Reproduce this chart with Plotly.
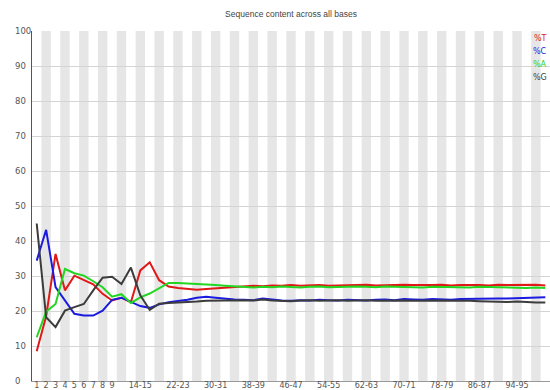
import plotly.graph_objects as go

# Position groups along the read (single bases, then pairs)
CATEGORIES = [str(i) for i in range(1, 10)] + [f"{i}-{i + 1}" for i in range(10, 100, 2)] + ["100"]

# Percentage of each base at every position group
PCT_T = [8.5, 18.5, 36.3, 25.9, 30.1, 28.9, 27.6, 24.9, 23.0, 23.8,
         22.5, 31.6, 33.9, 28.8, 27.0, 26.6, 26.3, 26.1, 26.3, 26.5,
         26.6, 26.8, 27.0, 27.2, 27.1, 27.3, 27.2, 27.4, 27.2, 27.3,
         27.4, 27.2, 27.3, 27.4, 27.3, 27.5, 27.3, 27.4, 27.3, 27.5,
         27.4, 27.3, 27.4, 27.5, 27.3, 27.4, 27.5, 27.4, 27.3, 27.5,
         27.4, 27.5, 27.6, 27.5, 27.3]
PCT_C = [34.4, 43.2, 26.8, 23.0, 19.2, 18.7, 18.7, 20.1, 23.2, 23.8,
         22.6, 21.4, 20.9, 21.9, 22.5, 22.8, 23.2, 23.8, 24.1, 23.8,
         23.5, 23.3, 23.2, 23.1, 23.6, 23.2, 23.0, 22.9, 23.1, 23.0,
         23.2, 23.1, 23.0, 23.2, 23.1, 23.0, 23.2, 23.3, 23.1, 23.4,
         23.3, 23.2, 23.4, 23.3, 23.2, 23.4, 23.5, 23.4, 23.5, 23.6,
         23.6, 23.7, 23.8, 23.9, 23.9]
PCT_A = [12.5, 19.8, 22.0, 32.0, 30.8, 30.1, 28.5, 26.8, 24.1, 24.8,
         22.3, 23.9, 25.0, 26.5, 28.0, 28.0, 27.9, 27.8, 27.6, 27.4,
         27.2, 27.0, 26.9, 26.7, 26.9, 26.8, 27.0, 26.9, 26.7, 26.9,
         27.0, 26.8, 26.9, 26.8, 27.0, 26.9, 26.8, 27.0, 26.9, 26.8,
         26.9, 26.7, 26.9, 26.8, 26.9, 26.8, 26.7, 26.9, 26.8, 26.7,
         26.8, 26.7, 26.6, 26.7, 26.6]
PCT_G = [45.0, 18.2, 15.4, 20.1, 21.1, 22.0, 25.9, 29.5, 29.8, 27.7,
         32.4, 24.5, 20.3, 22.1, 22.3, 22.4, 22.4, 22.7, 22.9, 23.0,
         22.9, 23.0, 23.1, 23.0, 23.3, 23.0, 22.9, 22.8, 23.0, 23.1,
         22.9, 23.0, 23.1, 22.9, 23.0, 23.1, 22.9, 23.0, 23.1, 23.0,
         22.9, 23.0, 23.1, 23.0, 22.9, 23.0, 22.9, 22.8, 22.7, 22.8,
         22.6, 22.7, 22.5, 22.4, 22.4]

SERIES_NAMES = ["%T", "%C", "%A", "%G"]
SERIES_COLORS = ["#e01818", "#1a1ae0", "#22d622", "#3c3c3c"]

X_TICK_LABELS = [str(i) for i in range(1, 10)] + ["14-15", "22-23", "30-31", "38-39", "46-47",
                                                   "54-55", "62-63", "70-71", "78-79", "86-87", "94-95"]
Y_TICKS = list(range(0, 101, 10))

TITLE = "Sequence content across all bases"

fig = go.Figure()

for name, vals, color in zip(SERIES_NAMES, [PCT_T, PCT_C, PCT_A, PCT_G], SERIES_COLORS):
    fig.add_trace(go.Scatter(
        x=CATEGORIES, y=vals, mode="lines", name=name,
        line=dict(color=color, width=2), showlegend=False,
    ))

# Alternating shaded bands behind every other position group
shapes = []
for i in range(len(CATEGORIES)):
    if i % 2 == 1:
        shapes.append(dict(type="rect", xref="x", yref="y", x0=i - 0.5, x1=i + 0.5,
                           y0=0, y1=100, fillcolor="#e6e6e6", line=dict(width=0), layer="below"))

annotations = []
# Left-aligned y tick labels
for v in Y_TICKS:
    annotations.append(dict(text=str(v), xref="paper", yref="y", x=-0.037, y=v,
                            xanchor="left", yanchor="middle", showarrow=False,
                            font=dict(family="DejaVu Sans", size=8.5, color="#555555")))
# Series key in series colours, tucked against the right edge
key_y = [97.9, 94.1, 90.4, 86.7]
for name, color, ky in zip(SERIES_NAMES, SERIES_COLORS, key_y):
    annotations.append(dict(text=name, xref="paper", yref="y", x=0.998, y=ky,
                            xanchor="right", yanchor="middle", showarrow=False,
                            font=dict(family="DejaVu Sans", size=8, color=color)))

fig.update_layout(
    width=550, height=390,
    margin=dict(l=32, r=0, t=31, b=9),
    paper_bgcolor="white", plot_bgcolor="white",
    title=dict(text=TITLE, x=291 / 550, xanchor="center", y=1 - 14 / 390, yanchor="middle",
               yref="container", font=dict(family="Liberation Sans", size=8.5, color="#444444")),
    shapes=shapes,
    annotations=annotations,
    xaxis=dict(
        type="category", categoryorder="array", categoryarray=CATEGORIES,
        range=[-0.5, len(CATEGORIES) - 0.5],
        tickmode="array", tickvals=X_TICK_LABELS, ticktext=X_TICK_LABELS,
        tickfont=dict(family="DejaVu Sans", size=8, color="#555555"),
        ticks="", showgrid=False, zeroline=False,
        showline=True, linecolor="#999999", linewidth=1,
        tickangle=0, automargin=False, ticklabelstandoff=-4,
    ),
    yaxis=dict(
        range=[0, 100], tickvals=Y_TICKS, showticklabels=False,
        showgrid=True, gridcolor="#d4d4d4", gridwidth=1, zeroline=False,
        showline=True, linecolor="#555555", linewidth=1, ticks="",
        automargin=False,
    ),
)

fig.write_html("out.html")
